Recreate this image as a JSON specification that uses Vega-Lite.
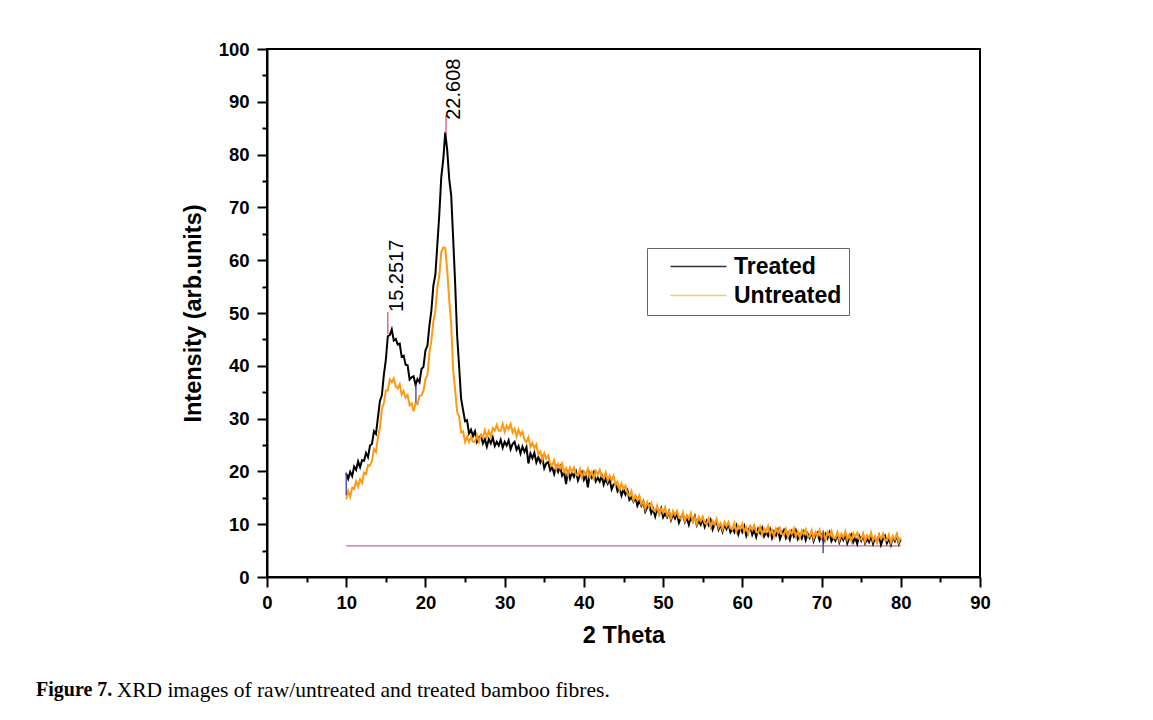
{
  "$schema": "https://vega.github.io/schema/vega-lite/v6.json",
  "width": 713,
  "height": 528,
  "autosize": {"type": "none"},
  "padding": {"left": 267, "top": 49, "right": 173, "bottom": 143},
  "background": "white",
  "config": {
    "view": {"stroke": "black", "strokeWidth": 2},
    "font": "Liberation Sans",
    "axis": {"labelFont": "Liberation Sans", "titleFont": "Liberation Sans", "grid": false}
  },
  "title": {
    "text": "Figure 7.",
    "subtitle": "\u200d\u00a0\u00a0\u00a0\u00a0\u00a0\u00a0\u00a0\u00a0\u00a0\u00a0\u00a0\u00a0\u00a0\u00a0\u00a0XRD images of raw/untreated and treated bamboo fibres.",
    "orient": "bottom",
    "anchor": "start",
    "frame": "group",
    "font": "Liberation Serif",
    "fontSize": 20,
    "fontWeight": "bold",
    "color": "black",
    "subtitleFont": "Liberation Serif",
    "subtitleFontSize": 21.5,
    "subtitleFontWeight": "normal",
    "subtitleColor": "black",
    "subtitlePadding": -20.5,
    "dx": -231,
    "offset": 33
  },
  "datasets": {
    "xrd": [
      {"x":10,"T":19.6,"U":14.7},{"x":10.25,"T":18.6,"U":16.3},{"x":10.5,"T":19.9,"U":15.2},{"x":10.75,"T":19.1,"U":16.9},
      {"x":11,"T":20.9,"U":16.7},{"x":11.25,"T":20.3,"U":18.1},{"x":11.5,"T":21.9,"U":17.1},{"x":11.75,"T":20.8,"U":18.5},
      {"x":12,"T":22.1,"U":17.8},{"x":12.25,"T":22.0,"U":19.8},{"x":12.5,"T":23.5,"U":19.5},{"x":12.75,"T":22.7,"U":21.2},
      {"x":13,"T":24.9,"U":21.1},{"x":13.25,"T":25.2,"U":22.0},{"x":13.5,"T":27.6,"U":24.2},{"x":13.75,"T":27.1,"U":23.7},
      {"x":14,"T":30.2,"U":26.4},{"x":14.25,"T":33.3,"U":28.3},{"x":14.5,"T":34.4,"U":31.9},{"x":14.75,"T":38.3,"U":32.9},
      {"x":15,"T":41.1,"U":35.3},{"x":15.25,"T":45.6,"U":35.3},{"x":15.5,"T":45.8,"U":37.4},{"x":15.75,"T":46.9,"U":36.9},
      {"x":16,"T":44.8,"U":37.6},{"x":16.25,"T":45.1,"U":36.1},{"x":16.5,"T":44.0,"U":35.7},{"x":16.75,"T":44.2,"U":36.5},
      {"x":17,"T":41.7,"U":34.5},{"x":17.25,"T":41.9,"U":35.2},{"x":17.5,"T":40.2,"U":34.0},{"x":17.75,"T":40.1,"U":34.5},
      {"x":18,"T":37.4,"U":32.5},{"x":18.25,"T":37.8,"U":32.9},{"x":18.5,"T":38.0,"U":31.4},{"x":18.75,"T":36.4,"U":32.9},
      {"x":19,"T":37.5,"U":32.7},{"x":19.25,"T":36.9,"U":34.3},{"x":19.5,"T":39.4,"U":34.4},{"x":19.75,"T":39.8,"U":35.3},
      {"x":20,"T":42.9,"U":37.5},{"x":20.25,"T":43.8,"U":38.2},{"x":20.5,"T":47.6,"U":42.4},{"x":20.75,"T":50.5,"U":44.8},
      {"x":21,"T":55.2,"U":48.4},{"x":21.25,"T":57.2,"U":50.4},{"x":21.5,"T":62.9,"U":54.8},{"x":21.75,"T":68.7,"U":57.1},
      {"x":22,"T":75.8,"U":61.6},{"x":22.25,"T":79.1,"U":62.4},{"x":22.5,"T":84.2,"U":62.3},{"x":22.75,"T":80.8,"U":58.1},
      {"x":23,"T":75.4,"U":52.5},{"x":23.25,"T":72.3,"U":47.7},{"x":23.5,"T":64.1,"U":39.2},{"x":23.75,"T":55.6,"U":35.4},
      {"x":24,"T":45.8,"U":31.3},{"x":24.25,"T":39.9,"U":30.4},{"x":24.5,"T":33.8,"U":27.4},{"x":24.75,"T":31.6,"U":27.6},
      {"x":25,"T":29.5,"U":25.6},{"x":25.25,"T":29.7,"U":26.6},{"x":25.5,"T":27.2,"U":25.6},{"x":25.75,"T":27.9,"U":26.5},
      {"x":26,"T":26.7,"U":25.6},{"x":26.25,"T":27.6,"U":25.6},{"x":26.5,"T":25.6,"U":26.9},{"x":26.75,"T":26.4,"U":25.6},
      {"x":27,"T":26.8,"U":26.9},{"x":27.25,"T":25.3,"U":26.5},{"x":27.5,"T":26.1,"U":27.8},{"x":27.75,"T":24.7,"U":26.5},
      {"x":28,"T":26.1,"U":27.6},{"x":28.25,"T":25.3,"U":26.6},{"x":28.5,"T":26.4,"U":28.2},{"x":28.75,"T":24.8,"U":27.7},
      {"x":29,"T":25.6,"U":28.8},{"x":29.25,"T":24.9,"U":27.7},{"x":29.5,"T":26.0,"U":27.7},{"x":29.75,"T":24.5,"U":29.0},
      {"x":30,"T":25.6,"U":27.5},{"x":30.25,"T":24.9,"U":28.7},{"x":30.5,"T":25.9,"U":28.0},{"x":30.75,"T":24.2,"U":29.0},
      {"x":31,"T":25.2,"U":27.4},{"x":31.25,"T":25.6,"U":28.1},{"x":31.5,"T":24.1,"U":26.6},{"x":31.75,"T":24.8,"U":27.9},
      {"x":32,"T":23.4,"U":26.9},{"x":32.25,"T":24.7,"U":27.5},{"x":32.5,"T":23.7,"U":26.0},{"x":32.75,"T":24.6,"U":25.6},
      {"x":33,"T":21.5,"U":26.5},{"x":33.25,"T":23.4,"U":24.6},{"x":33.5,"T":22.5,"U":25.4},{"x":33.75,"T":23.5,"U":24.4},
      {"x":34,"T":21.7,"U":25.1},{"x":34.25,"T":22.7,"U":23.2},{"x":34.5,"T":21.7,"U":23.8},{"x":34.75,"T":22.6,"U":22.2},
      {"x":35,"T":20.6,"U":23.4},{"x":35.25,"T":21.5,"U":22.4},{"x":35.5,"T":21.8,"U":23.0},{"x":35.75,"T":20.2,"U":21.5},
      {"x":36,"T":20.8,"U":21.1},{"x":36.25,"T":19.5,"U":22.1},{"x":36.5,"T":20.9,"U":20.4},{"x":36.75,"T":19.9,"U":21.4},
      {"x":37,"T":20.9,"U":20.6},{"x":37.25,"T":19.2,"U":21.5},{"x":37.5,"T":19.9,"U":19.9},{"x":37.75,"T":17.6,"U":20.6},
      {"x":38,"T":20.2,"U":19.3},{"x":38.25,"T":18.6,"U":20.7},{"x":38.5,"T":19.8,"U":19.9},{"x":38.75,"T":19.0,"U":20.7},
      {"x":39,"T":20.0,"U":19.4},{"x":39.25,"T":18.3,"U":19.2},{"x":39.5,"T":19.3,"U":20.4},{"x":39.75,"T":19.9,"U":18.8},
      {"x":40,"T":18.4,"U":20.0},{"x":40.25,"T":19.3,"U":19.4},{"x":40.5,"T":17.0,"U":20.5},{"x":40.75,"T":19.6,"U":19.0},
      {"x":41,"T":18.8,"U":19.9},{"x":41.25,"T":19.8,"U":18.7},{"x":41.5,"T":18.1,"U":20.1},{"x":41.75,"T":18.8,"U":19.4},
      {"x":42,"T":18.1,"U":20.3},{"x":42.25,"T":19.2,"U":19.0},{"x":42.5,"T":17.5,"U":18.8},{"x":42.75,"T":18.6,"U":19.8},
      {"x":43,"T":17.7,"U":18.2},{"x":43.25,"T":18.6,"U":19.2},{"x":43.5,"T":16.6,"U":18.3},{"x":43.75,"T":17.5,"U":19.2},
      {"x":44,"T":17.8,"U":17.4},{"x":44.25,"T":16.2,"U":18.0},{"x":44.5,"T":16.8,"U":16.5},{"x":44.75,"T":15.4,"U":17.7},
      {"x":45,"T":16.6,"U":16.7},{"x":45.25,"T":15.6,"U":17.3},{"x":45.5,"T":16.4,"U":15.8},{"x":45.75,"T":14.6,"U":15.4},
      {"x":46,"T":15.1,"U":16.3},{"x":46.25,"T":14.3,"U":14.5},{"x":46.5,"T":15.2,"U":15.4},{"x":46.75,"T":13.5,"U":14.6},
      {"x":47,"T":14.4,"U":15.4},{"x":47.25,"T":13.5,"U":13.7},{"x":47.5,"T":14.3,"U":14.3},{"x":47.75,"T":12.4,"U":12.9},
      {"x":48,"T":13.2,"U":14.2},{"x":48.25,"T":13.7,"U":13.3},{"x":48.5,"T":12.1,"U":14.0},{"x":48.75,"T":12.9,"U":12.7},
      {"x":49,"T":11.5,"U":12.4},{"x":49.25,"T":12.9,"U":13.5},{"x":49.5,"T":12.0,"U":11.8},{"x":49.75,"T":13.0,"U":12.9},
      {"x":50,"T":11.3,"U":12.2},{"x":50.25,"T":12.0,"U":13.2},{"x":50.5,"T":11.3,"U":11.6},{"x":50.75,"T":12.4,"U":12.4},
      {"x":51,"T":10.8,"U":11.1},{"x":51.25,"T":11.9,"U":12.5},{"x":51.5,"T":11.1,"U":11.7},{"x":51.75,"T":12.1,"U":12.5},
      {"x":52,"T":10.3,"U":11.2},{"x":52.25,"T":11.3,"U":11.0},{"x":52.5,"T":11.9,"U":12.2},{"x":52.75,"T":10.4,"U":10.6},
      {"x":53,"T":11.2,"U":11.7},{"x":53.25,"T":9.9,"U":11.0},{"x":53.5,"T":11.4,"U":12.1},{"x":53.75,"T":10.5,"U":10.5},
      {"x":54,"T":11.5,"U":11.3},{"x":54.25,"T":9.8,"U":10.0},{"x":54.5,"T":10.6,"U":11.4},{"x":54.75,"T":9.9,"U":10.6},
      {"x":55,"T":11.0,"U":11.4},{"x":55.25,"T":9.5,"U":10.2},{"x":55.5,"T":10.6,"U":10.0},{"x":55.75,"T":9.8,"U":11.1},
      {"x":56,"T":10.8,"U":9.5},{"x":56.25,"T":9.0,"U":10.6},{"x":56.5,"T":10.0,"U":10.0},{"x":56.75,"T":10.5,"U":11.0},
      {"x":57,"T":9.0,"U":9.4},{"x":57.25,"T":9.9,"U":10.2},{"x":57.5,"T":8.6,"U":9.0},{"x":57.75,"T":10.0,"U":10.4},
      {"x":58,"T":9.1,"U":9.6},{"x":58.25,"T":10.1,"U":10.4},{"x":58.5,"T":8.5,"U":9.2},{"x":58.75,"T":9.2,"U":9.0},
      {"x":59,"T":8.5,"U":10.2},{"x":59.25,"T":9.7,"U":8.6},{"x":59.5,"T":8.1,"U":9.7},{"x":59.75,"T":9.3,"U":9.1},
      {"x":60,"T":8.5,"U":10.1},{"x":60.25,"T":9.6,"U":8.6},{"x":60.5,"T":7.8,"U":9.4},{"x":60.75,"T":8.9,"U":8.2},
      {"x":61,"T":9.5,"U":9.6},{"x":61.25,"T":8.0,"U":8.9},{"x":61.5,"T":8.9,"U":9.8},{"x":61.75,"T":7.6,"U":8.5},
      {"x":62,"T":9.1,"U":8.4},{"x":62.25,"T":8.3,"U":9.5},{"x":62.5,"T":9.3,"U":8.0},{"x":62.75,"T":7.7,"U":9.2},
      {"x":63,"T":8.5,"U":8.5},{"x":63.25,"T":7.8,"U":9.6},{"x":63.5,"T":9.0,"U":8.1},{"x":63.75,"T":7.4,"U":8.9},
      {"x":64,"T":8.6,"U":7.7},{"x":64.25,"T":7.9,"U":9.2},{"x":64.5,"T":8.9,"U":8.4},{"x":64.75,"T":7.2,"U":9.3},
      {"x":65,"T":8.3,"U":8.1},{"x":65.25,"T":8.9,"U":8.0},{"x":65.5,"T":7.4,"U":9.1},{"x":65.75,"T":8.3,"U":7.6},
      {"x":66,"T":7.1,"U":8.8},{"x":66.25,"T":8.6,"U":8.2},{"x":66.5,"T":7.7,"U":9.2},{"x":66.75,"T":8.8,"U":7.7},
      {"x":67,"T":7.2,"U":8.6},{"x":67.25,"T":8.0,"U":7.4},{"x":67.5,"T":7.3,"U":8.8},{"x":67.75,"T":8.5,"U":8.1},
      {"x":68,"T":7.0,"U":9.0},{"x":68.25,"T":8.2,"U":7.8},{"x":68.5,"T":7.4,"U":7.6},{"x":68.75,"T":8.5,"U":8.8},
      {"x":69,"T":6.8,"U":7.3},{"x":69.25,"T":7.9,"U":8.5},{"x":69.5,"T":8.4,"U":7.8},{"x":69.75,"T":7.0,"U":8.9},
      {"x":70,"T":7.9,"U":7.4},{"x":70.25,"T":6.7,"U":8.3},{"x":70.5,"T":8.1,"U":7.0},{"x":70.75,"T":7.3,"U":8.5},
      {"x":71,"T":8.4,"U":7.8},{"x":71.25,"T":6.8,"U":8.7},{"x":71.5,"T":7.5,"U":7.4},{"x":71.75,"T":6.9,"U":7.3},
      {"x":72,"T":8.1,"U":8.5},{"x":72.25,"T":6.6,"U":7.0},{"x":72.5,"T":7.7,"U":8.2},{"x":72.75,"T":7.0,"U":7.5},
      {"x":73,"T":8.1,"U":8.6},{"x":73.25,"T":6.4,"U":7.1},{"x":73.5,"T":7.4,"U":8.0},{"x":73.75,"T":8.0,"U":6.8},
      {"x":74,"T":6.6,"U":8.3},{"x":74.25,"T":7.5,"U":7.6},{"x":74.5,"T":6.3,"U":8.4},{"x":74.75,"T":7.8,"U":7.2},
      {"x":75,"T":6.9,"U":7.1},{"x":75.25,"T":8.0,"U":8.2},{"x":75.5,"T":6.4,"U":6.7},{"x":75.75,"T":7.2,"U":7.9},
      {"x":76,"T":6.6,"U":7.3},{"x":76.25,"T":7.8,"U":8.4},{"x":76.5,"T":6.3,"U":6.9},{"x":76.75,"T":7.4,"U":7.7},
      {"x":77,"T":6.7,"U":6.5},{"x":77.25,"T":7.8,"U":8.0},{"x":77.5,"T":6.1,"U":7.3},{"x":77.75,"T":7.2,"U":8.2},
      {"x":78,"T":7.8,"U":7.0},{"x":78.25,"T":6.4,"U":6.9},{"x":78.5,"T":7.3,"U":8.0},{"x":78.75,"T":6.1,"U":6.5},
      {"x":79,"T":7.6,"U":7.7},{"x":79.25,"T":6.8,"U":7.1},{"x":79.5,"T":7.9,"U":8.1},{"x":79.75,"T":6.3,"U":6.6},
      {"x":80,"T":7.1,"U":7.5}
    ],
    "baseline": [{"x": 10, "x2": 80, "y": 5.9}],
    "ticks": [
      {"x": 15.25, "y": 46, "y2": 50.2, "kind": "peak"},
      {"x": 22.6, "y": 84, "y2": 87.5, "kind": "peak"},
      {"x": 10, "y": 15.5, "y2": 19.8, "kind": "marker"},
      {"x": 18.8, "y": 33, "y2": 36.5, "kind": "marker"},
      {"x": 70.2, "y": 4.5, "y2": 8.8, "kind": "marker"}
    ],
    "peaks": [
      {"x": 16.35, "y": 50.2, "label": "15.2517"},
      {"x": 23.6, "y": 86.6, "label": "22.608"}
    ]
  },
  "resolve": {
    "scale": {"color": "independent"},
    "axis": {"x": "independent", "y": "independent"}
  },
  "layer": [
    {
      "data": {"name": "baseline"},
      "mark": {"type": "rule", "color": "#c8707e", "strokeWidth": 1.3},
      "encoding": {
        "x": {"field": "x", "type": "quantitative", "scale": {"domain": [0, 90], "nice": false},
          "axis": {"orient": "bottom", "values": [5, 15, 25, 35, 45, 55, 65, 75, 85], "labels": false, "domain": false, "title": null, "tickSize": 5, "tickWidth": 2, "tickColor": "black", "grid": false}},
        "x2": {"field": "x2"},
        "y": {"field": "y", "type": "quantitative", "scale": {"domain": [0, 100], "nice": false},
          "axis": {"orient": "left", "values": [5, 15, 25, 35, 45, 55, 65, 75, 85, 95], "labels": false, "domain": false, "title": null, "tickSize": 5, "tickWidth": 2, "tickColor": "black", "grid": false}}
      }
    },
    {
      "data": {"name": "xrd"},
      "transform": [{"fold": ["T", "U"], "as": ["series", "intensity"]}],
      "mark": {"type": "line", "strokeWidth": 2},
      "encoding": {
        "x": {"field": "x", "type": "quantitative", "scale": {"domain": [0, 90], "nice": false},
          "axis": {"orient": "bottom", "values": [0, 10, 20, 30, 40, 50, 60, 70, 80, 90], "title": "2 Theta", "tickSize": 10, "tickWidth": 2, "tickColor": "black", "domainColor": "black", "domainWidth": 2, "labelFontSize": 18.5, "labelFontWeight": "bold", "labelColor": "black", "labelPadding": 6, "labelFlush": false, "labelOverlap": false, "titleFontSize": 23.5, "titleFontWeight": "bold", "titleColor": "black", "titlePadding": 12, "grid": false}},
        "y": {"field": "intensity", "type": "quantitative", "scale": {"domain": [0, 100], "nice": false},
          "axis": {"orient": "left", "values": [0, 10, 20, 30, 40, 50, 60, 70, 80, 90, 100], "title": "Intensity (arb.units)", "tickSize": 10, "tickWidth": 2, "tickColor": "black", "domainColor": "black", "domainWidth": 2, "labelFontSize": 18.5, "labelFontWeight": "bold", "labelColor": "black", "labelPadding": 8, "labelFlush": false, "labelOverlap": false, "titleFontSize": 23.5, "titleFontWeight": "bold", "titleColor": "black", "titlePadding": 13, "grid": false}},
        "color": {"field": "series", "type": "nominal", "scale": {"domain": ["T", "U"], "range": ["#000000", "#ff9a10"]}, "legend": null}
      }
    },
    {
      "data": {"name": "ticks"},
      "mark": {"type": "rule", "strokeWidth": 1.3},
      "encoding": {
        "x": {"field": "x", "type": "quantitative", "scale": {"domain": [0, 90], "nice": false}, "axis": null},
        "y": {"field": "y", "type": "quantitative", "scale": {"domain": [0, 100], "nice": false}, "axis": null},
        "y2": {"field": "y2"},
        "color": {"condition": {"test": "datum.kind === 'peak'", "value": "#e0506e"}, "value": "#3a3aa0"}
      }
    },
    {
      "data": {"name": "peaks"},
      "mark": {"type": "text", "angle": 270, "align": "left", "baseline": "middle", "fontSize": 20, "font": "Liberation Sans", "color": "black"},
      "encoding": {
        "x": {"field": "x", "type": "quantitative", "scale": {"domain": [0, 90], "nice": false}, "axis": null},
        "y": {"field": "y", "type": "quantitative", "scale": {"domain": [0, 100], "nice": false}, "axis": null},
        "text": {"field": "label", "type": "nominal"}
      }
    },
    {
      "data": {"name": "baseline"},
      "transform": [{"filter": "datum.x > 1000"}],
      "mark": {"type": "line", "strokeWidth": 1.5},
      "encoding": {
        "x": {"field": "x", "type": "quantitative", "scale": {"domain": [0, 90], "nice": false}, "axis": null},
        "y": {"field": "y", "type": "quantitative", "scale": {"domain": [0, 100], "nice": false}, "axis": null},
        "color": {"field": "series", "type": "nominal",
          "scale": {"domain": ["Treated", "Untreated"], "range": ["#333333", "#e6d46e"]},
          "legend": {"orient": "none", "legendX": 380, "legendY": 199, "title": null,
            "symbolType": "M-4,0H4", "symbolSize": 196, "symbolStrokeWidth": 1.5, "symbolOffset": 33,
            "labelOffset": 24, "labelFont": "Liberation Sans", "labelFontSize": 23, "labelFontWeight": "bold", "labelColor": "black",
            "padding": 7, "rowPadding": 5, "strokeColor": "#666666", "fillColor": "white"}}
      }
    }
  ]
}
